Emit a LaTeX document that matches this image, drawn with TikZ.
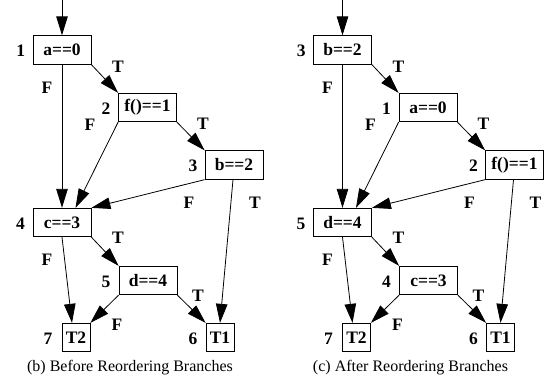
\documentclass[tikz,border=0pt]{standalone}
\usepackage{fontspec}
\setmainfont{Liberation Serif}
\usetikzlibrary{arrows.meta}
\begin{document}
\begin{tikzpicture}[x=1pt,y=-1pt,
  cond/.style={draw, line width=0.8pt, minimum width=58pt, minimum height=28.5pt,
    inner sep=0pt, font=\fontsize{17.5}{17.5}\selectfont\bfseries},
  term/.style={cond, minimum width=28pt},
  lbl/.style={inner sep=0pt, font=\fontsize{17.5}{17.5}\selectfont\bfseries},
  captext/.style={inner sep=0pt, font=\fontsize{16}{16}\selectfont},
  edge/.style={line width=0.8pt, -{Triangle[length=19pt,width=11.5pt]}}]
\useasboundingbox (0,0) rectangle (544,378);

% ---- (b) before reordering ----
\begin{scope}
  \node[cond] (La)  at (62,50)    {a==0};
  \node[cond] (Lf)  at (147.5,107.5) {f()==1};
  \node[cond] (Lb)  at (234,165)  {b==2};
  \node[cond] (Lc)  at (62,222.5) {c==3};
  \node[cond] (Ld)  at (148,280.5) {d==4};
  \node[term] (LT2) at (76,337.5) {T2};
  \node[term] (LT1) at (220,337.5) {T1};
  \coordinate (Lin) at (62,0);

  \node[lbl] (Ln1) at (20.7,51) {1};
  \node[lbl] (Ln2) at (106,109) {2};
  \node[lbl] (Ln3) at (193,166) {3};
  \node[lbl] (Ln4) at (20.5,224) {4};
  \node[lbl] (Ln5) at (106,282) {5};
  \node[lbl] (Ln7) at (48,339) {7};
  \node[lbl] (Ln6) at (193,339) {6};

  \draw[edge] (Lin) -- (La.north);
  \draw[edge] (La.south east) -- (Lf.north west);
  \draw[edge] (La.south) -- (Lc.north);
  \draw[edge] (Lf.south west) -- ([xshift=13.5pt]Lc.north);
  \draw[edge] (Lf.south east) -- (Lb.north west);
  \draw[edge] (Lb.south west) -- (Lc.north east);
  \draw[edge] ([xshift=-1pt]Lb.south) -- (LT1.north);
  \draw[edge] (Lc.south east) -- (Ld.north west);
  \draw[edge] (Lc.south) -- ([xshift=-4pt]LT2.north);
  \draw[edge] (Ld.south west) -- (LT2.north east);
  \draw[edge] (Ld.south east) -- (LT1.north west);

  \node[lbl] (Le1) at (118,67) {T};
  \node[lbl] (Le2) at (47,88) {F};
  \node[lbl] (Le3) at (90,125) {F};
  \node[lbl] (Le4) at (203,124) {T};
  \node[lbl] (Le5) at (189,203) {F};
  \node[lbl] (Le6) at (255,203) {T};
  \node[lbl] (Le7) at (118,238) {T};
  \node[lbl] (Le8) at (47,260) {F};
  \node[lbl] (Le9) at (198,296) {T};
  \node[lbl] (Le10) at (117,325) {F};

  \node[captext] (Lcap) at (130,368) {(b) Before Reordering Branches};
\end{scope}

% ---- (c) after reordering ----
\begin{scope}[xshift=280.5pt]
  \node[cond] (Rb)  at (62,50)    {b==2};
  \node[cond] (Ra)  at (147.5,107.5) {a==0};
  \node[cond] (Rf)  at (234,165)  {f()==1};
  \node[cond] (Rd)  at (62,222.5) {d==4};
  \node[cond] (Rc)  at (148,280.5) {c==3};
  \node[term] (RT2) at (76,337.5) {T2};
  \node[term] (RT1) at (220,337.5) {T1};
  \coordinate (Rin) at (62,0);

  \node[lbl] (Rn3) at (20.7,51) {3};
  \node[lbl] (Rn1) at (106,109) {1};
  \node[lbl] (Rn2) at (193,166) {2};
  \node[lbl] (Rn5) at (20.5,224) {5};
  \node[lbl] (Rn4) at (106,282) {4};
  \node[lbl] (Rn7) at (48,339) {7};
  \node[lbl] (Rn6) at (193,339) {6};

  \draw[edge] (Rin) -- (Rb.north);
  \draw[edge] (Rb.south east) -- (Ra.north west);
  \draw[edge] (Rb.south) -- (Rd.north);
  \draw[edge] (Ra.south west) -- ([xshift=13.5pt]Rd.north);
  \draw[edge] (Ra.south east) -- (Rf.north west);
  \draw[edge] (Rf.south west) -- (Rd.north east);
  \draw[edge] ([xshift=-1pt]Rf.south) -- (RT1.north);
  \draw[edge] (Rd.south east) -- (Rc.north west);
  \draw[edge] (Rd.south) -- ([xshift=-4pt]RT2.north);
  \draw[edge] (Rc.south west) -- (RT2.north east);
  \draw[edge] (Rc.south east) -- (RT1.north west);

  \node[lbl] (Re1) at (118,67) {T};
  \node[lbl] (Re2) at (47,88) {F};
  \node[lbl] (Re3) at (90,125) {F};
  \node[lbl] (Re4) at (203,124) {T};
  \node[lbl] (Re5) at (189,203) {F};
  \node[lbl] (Re6) at (255,203) {T};
  \node[lbl] (Re7) at (118,238) {T};
  \node[lbl] (Re8) at (47,260) {F};
  \node[lbl] (Re9) at (198,296) {T};
  \node[lbl] (Re10) at (117,325) {F};

  \node[captext] (Rcap) at (130,368) {(c) After Reordering Branches};
\end{scope}
\end{tikzpicture}
\end{document}
